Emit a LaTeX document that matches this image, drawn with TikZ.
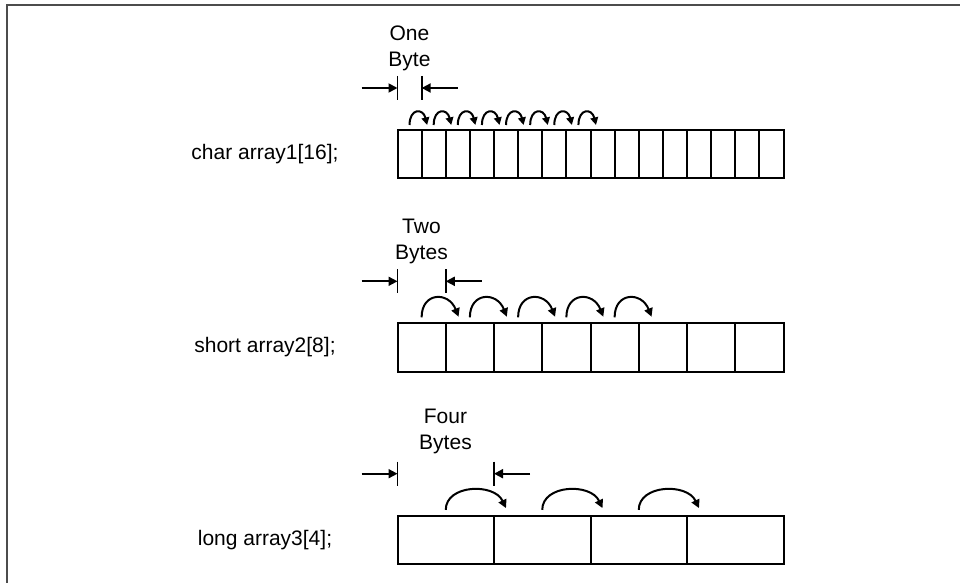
\documentclass[tikz,border=0pt]{standalone}
\usepackage{fontspec}
\setmainfont{Liberation Sans}
\usetikzlibrary{arrows.meta}

\begin{document}
\begin{tikzpicture}[x=0.5pt,y=-0.5pt,
  cellbox/.style={draw,line width=1pt,minimum height=24.25pt,inner sep=0pt,outer sep=0pt,anchor=north west},
  arrlabel/.style={font=\fontsize{10.5}{13}\selectfont},
  sizelabel/.style={align=center,font=\fontsize{10.5}{13}\selectfont},
  tick/.style={line width=0.9pt},
  dimarrow/.style={line width=0.9pt,-{Triangle[length=4.5pt,width=4.5pt]}},
  hop/.style={line width=1pt,-{Triangle[length=3.8pt,width=3.8pt]}},
  bighop/.style={line width=1pt,-{Triangle[length=4.2pt,width=4.2pt]}}]
  \useasboundingbox (0,0) rectangle (960,583);
  % frame
  \draw[line width=1pt,black!70] (6.5,583) -- (6.5,5.5) -- (960,5.5);

  % the three arrays
  \foreach \i in {1,...,16}
    \node[cellbox,minimum width=193pt/16] (c1-\i) at ({397.5+(\i-1)*386/16},130) {};
  \foreach \i in {1,...,8}
    \node[cellbox,minimum width=193pt/8] (c2-\i) at ({397.5+(\i-1)*386/8},323.3) {};
  \foreach \i in {1,...,4}
    \node[cellbox,minimum width=193pt/4] (c3-\i) at ({397.5+(\i-1)*386/4},515.7) {};

  \node[arrlabel] (n1) at (265,154.5) {char array1[16];};
  \node[arrlabel] (n2) at (265,347.5) {short array2[8];};
  \node[arrlabel] (n3) at (265,540) {long array3[4];};

  % element size marks
  \node[sizelabel] (s1) at (409.5,48.5) {One\\Byte};
  \node[sizelabel] (s2) at (421.5,241.5) {Two\\Bytes};
  \node[sizelabel] (s3) at (445.5,431) {Four\\Bytes};

  \foreach \k in {1,2,3} {
    \coordinate (d\k l) at ([yshift=21pt]c\k-1.north west);
    \coordinate (d\k r) at ([yshift=21pt]c\k-1.north east);
    \draw[tick] ([yshift=6pt]d\k l) -- ([yshift=-6pt]d\k l);
    \draw[tick] ([yshift=6pt]d\k r) -- ([yshift=-6pt]d\k r);
    \draw[dimarrow] ([xshift=-18pt]d\k l) -- (d\k l);
    \draw[dimarrow] ([xshift=18pt]d\k r) -- (d\k r);
  }

  % stepping from element to element
  \foreach \i [evaluate=\i as \j using int(\i+1)] in {1,...,8}
    \draw[hop] ([yshift=2.5pt]c1-\i.north)
      .. controls +(0pt,8.5pt) and +(-2pt,8.5pt) .. ([xshift=2.75pt,yshift=2.5pt]c1-\j.north west);
  \foreach \i [evaluate=\i as \j using int(\i+1)] in {1,...,5}
    \draw[bighop] ([yshift=3pt]c2-\i.north)
      .. controls +(0pt,12.7pt) and +(-5pt,12.7pt) .. ([xshift=6.4pt,yshift=3.3pt]c2-\j.north west);
  \foreach \i [evaluate=\i as \j using int(\i+1)] in {1,...,3}
    \draw[bighop] ([yshift=2.9pt]c3-\i.north)
      .. controls +(0pt,12.7pt) and +(-6pt,12.7pt) .. ([xshift=6pt,yshift=3.8pt]c3-\j.north west);
\end{tikzpicture}
\end{document}
